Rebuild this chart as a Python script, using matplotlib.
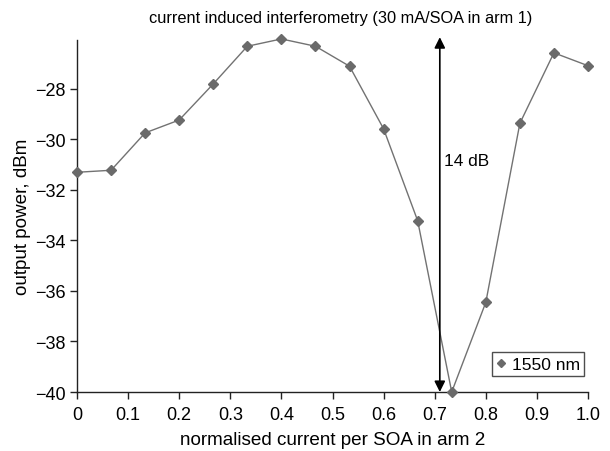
import matplotlib
matplotlib.use("Agg")
import matplotlib.pyplot as plt
import numpy as np

plt.rcParams['font.family'] = ['Liberation Sans', 'DejaVu Sans']

current = [0.0, 0.0667, 0.1333, 0.2, 0.2667, 0.3333, 0.4, 0.4667, 0.5333,
           0.6, 0.6667, 0.7333, 0.8, 0.8667, 0.9333, 1.0]
power = [-31.30, -31.22, -29.74, -29.23, -27.80, -26.31, -26.02, -26.31, -27.10,
         -29.58, -33.22, -40.0, -36.45, -29.36, -26.57, -27.08]
xticks = [0, 0.1, 0.2, 0.3, 0.4, 0.5, 0.6, 0.7, 0.8, 0.9, 1.0]
xticklabels = ['0', '0.1', '0.2', '0.3', '0.4', '0.5', '0.6', '0.7', '0.8', '0.9', '1.0']
yticks = [-28, -30, -32, -34, -36, -38, -40]
arrow_x = 0.71
arrow_lo, arrow_hi = -40.0, -25.95

fig = plt.figure(figsize=(6.10, 4.52), dpi=100)
ax = fig.add_axes([77/610, 1 - 393/452, (588 - 77)/610, (393 - 40.7)/452])

ax.plot(current, power, color='#727272', lw=1.0, marker='D', ms=5.5,
        mfc='#6a6a6a', mec='#6a6a6a', label='1550 nm', clip_on=False, zorder=3)

ax.set_xlim(0, 1.0)
ax.set_ylim(-40, -26.05)
ax.set_xticks(xticks)
ax.set_xticklabels(xticklabels)
ax.set_yticks(yticks)
ax.set_yticklabels(['\u2212%d' % abs(v) for v in yticks])

for s in ['top', 'right']:
    ax.spines[s].set_visible(False)
for s in ['left', 'bottom']:
    ax.spines[s].set_linewidth(1.0)
    ax.spines[s].set_color('#222222')
ax.tick_params(direction='out', length=5, width=1.0, labelsize=13, color='#222222', pad=3)
ax.tick_params(axis='x', pad=5)

ax.set_xlabel('normalised current per SOA in arm 2', fontsize=13.6, labelpad=6)
ax.set_ylabel('output power, dBm', fontsize=13.6, labelpad=3)
ax.set_title('current induced interferometry (30 mA/SOA in arm 1)', fontsize=11.8, pad=13, x=0.515)

ax.annotate('', xy=(arrow_x, arrow_hi), xytext=(arrow_x, arrow_lo),
            arrowprops=dict(arrowstyle='<|-|>', color='black', lw=1.2,
                            mutation_scale=16, shrinkA=0, shrinkB=0),
            annotation_clip=False, zorder=4)
ax.text(0.718, -30.84, '14 dB', fontsize=12.4, va='center', ha='left')

leg = ax.legend(loc='lower right', bbox_to_anchor=(0.993, 0.045), fontsize=12.6,
                frameon=True, fancybox=False, handlelength=0.6, handletextpad=0.3,
                borderpad=0.25, markerscale=0.75, borderaxespad=0)
leg.get_frame().set_edgecolor('#222222')
leg.get_frame().set_linewidth(1.0)
leg.get_lines()[0].set_linestyle('')

fig.savefig('out.png', dpi=100)
